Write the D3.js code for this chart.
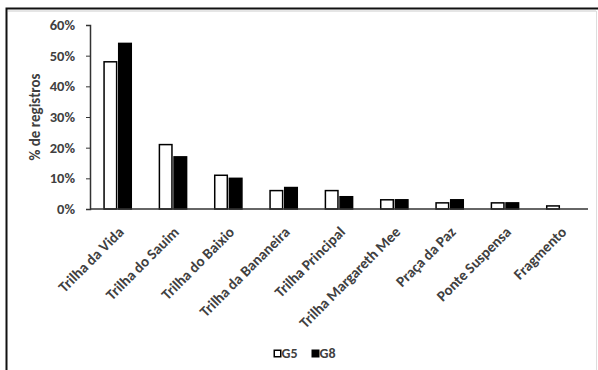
<!DOCTYPE html>
<html><head><meta charset="utf-8">
<script src="https://cdn.jsdelivr.net/npm/d3@7"></script>
<style>body{margin:0;background:#fff}svg{display:block}</style>
</head><body>
<svg id="c" width="598" height="370"></svg>
<script>
const categories = ["Trilha da Vida","Trilha do Sauim","Trilha do Baixio","Trilha da Bananeira","Trilha Principal","Trilha Margareth Mee","Praça da Paz","Ponte Suspensa","Fragmento"];
const g5 = [48,21,11,6,6,3,2,2,1];
const g8 = [54,17,10,7,4,3,3,2,0];
const seriesNames = ["G5","G8"];
const yTicks = [0,10,20,30,40,50,60];

const svg = d3.select("#c");
const font = "Calibri, Carlito, 'Open Sans', sans-serif";
const txt = "#404040";
// frame
svg.append("rect").attr("x",6.5).attr("y",8.5).attr("width",600).attr("height",380)
  .attr("fill","none").attr("stroke","#111").attr("stroke-width",2);
svg.append("line").attr("x1",8).attr("x2",596).attr("y1",11).attr("y2",11).attr("stroke","#ccc");
svg.append("line").attr("x1",596.5).attr("x2",596.5).attr("y1",11).attr("y2",370).attr("stroke","#ddd");

const m = {l:90, r:588, t:25, b:209};
const x = d3.scaleBand().domain(categories).range([m.l,m.r]).paddingInner(0.46).paddingOuter(0.23);
const xs = d3.scaleBand().domain(seriesNames).range([0,x.bandwidth()]).padding(0.04);
const y = d3.scaleLinear().domain([0,60]).range([m.b,m.t]);

const yAxis = svg.append("g").attr("transform",`translate(${m.l},0)`)
  .call(d3.axisLeft(y).tickValues(yTicks).tickFormat(d=>d+"%").tickSize(4).tickPadding(11));
yAxis.select(".domain").attr("stroke","#333").attr("stroke-width",1.5);
yAxis.selectAll(".tick line").attr("stroke","#333");
yAxis.selectAll("text").attr("font-family",font).attr("font-size",14.5).attr("font-weight","bold").attr("fill",txt);

const data = categories.map((c,i)=>({c, v:[g5[i],g8[i]]}));
const grp = svg.append("g").selectAll("g").data(data).join("g").attr("transform",d=>`translate(${x(d.c)},0)`);
grp.selectAll("rect").data(d=>d.v.map((v,j)=>({s:seriesNames[j],v}))).join("rect")
  .attr("x",d=>xs(d.s)+0.75).attr("width",xs.bandwidth()-1.5)
  .attr("y",d=>y(d.v)).attr("height",d=>y(0)-y(d.v))
  .attr("fill",d=>d.s==="G5"?"#fff":"#000").attr("stroke","#000").attr("stroke-width",1.5);

const xAxis = svg.append("g").attr("transform",`translate(0,${m.b})`)
  .call(d3.axisBottom(x).tickSize(0).tickPadding(0));
xAxis.select(".domain").attr("stroke","#333").attr("stroke-width",1.5).attr("d",`M${m.l},0H${m.r}`);
xAxis.selectAll("text").attr("font-family",font).attr("font-size",15).attr("font-weight","bold").attr("fill",txt)
  .attr("text-anchor","end").attr("dy",0).attr("y",0)
  .attr("transform","translate(7,24) rotate(-45)");

svg.append("text").attr("transform","translate(40,117) rotate(-90)").attr("text-anchor","middle")
  .attr("font-family",font).attr("font-size",15).attr("font-weight","bold").attr("fill",txt).text("% de registros");

const lg = svg.append("g").attr("transform","translate(273.5,357.5)");
seriesNames.forEach((s,i)=>{
  const gx = i*38;
  lg.append("rect").attr("x",gx+0.75).attr("y",-7.25).attr("width",6.5).attr("height",6.5)
    .attr("fill",s==="G5"?"#fff":"#000").attr("stroke","#000").attr("stroke-width",1.5);
  lg.append("text").attr("x",gx+8).attr("y",0).attr("font-family",font).attr("font-size",14)
    .attr("font-weight","bold").attr("fill",txt).text(s);
});
</script>
</body></html>
